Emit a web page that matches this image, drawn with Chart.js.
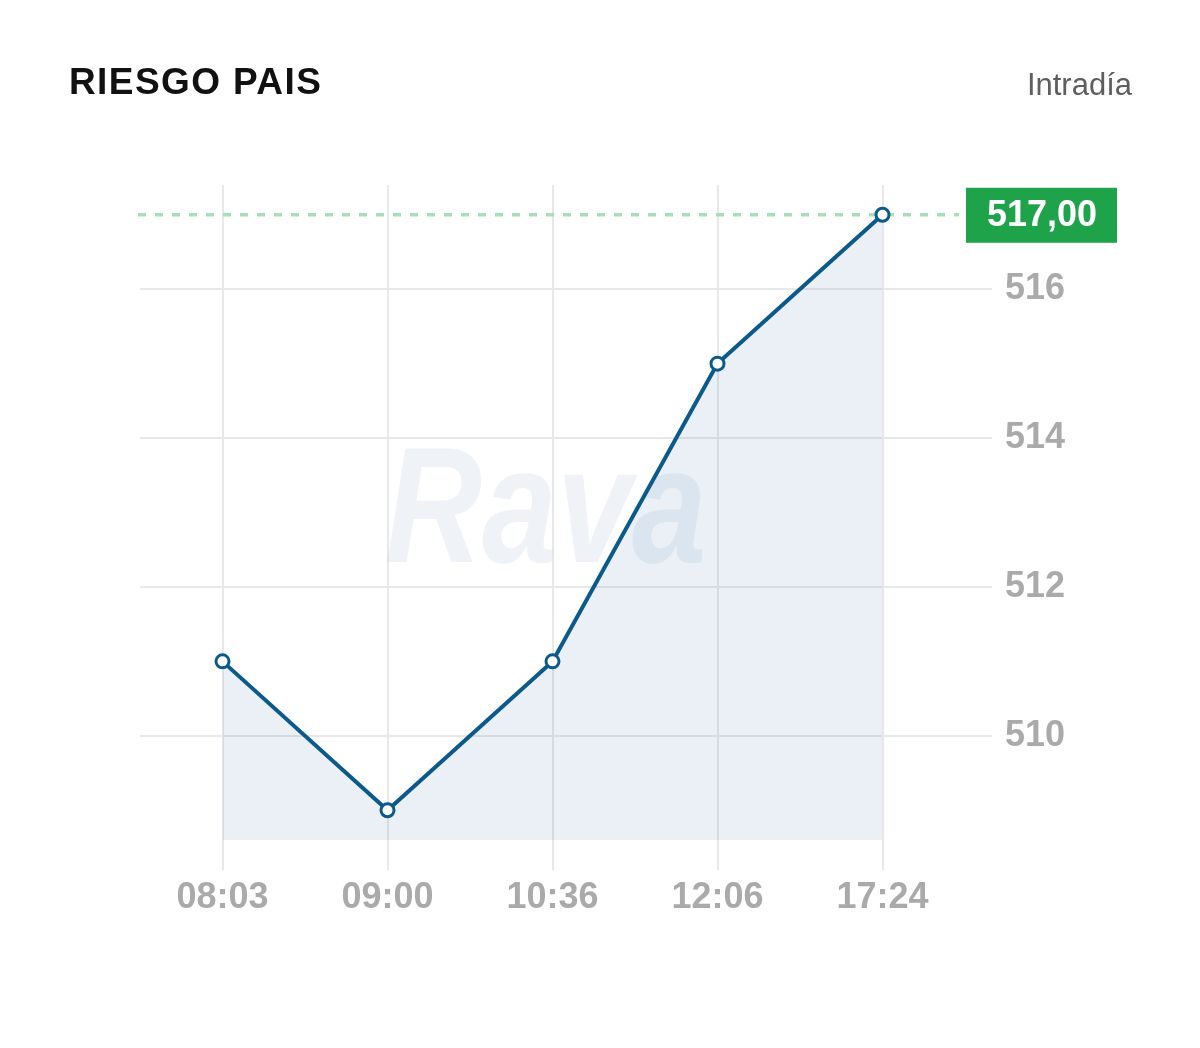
<!DOCTYPE html>
<html>
<head>
<meta charset="utf-8">
<title>Riesgo Pais</title>
<script src="https://cdn.jsdelivr.net/npm/chart.js@4/dist/chart.umd.min.js"></script>
<style>
  html, body { margin: 0; padding: 0; background: #fff; }
  #wrap { position: relative; width: 1200px; height: 1048px; overflow: hidden; }
  #chart { position: absolute; left: 0; top: 0; }
  .title {
    position: absolute; left: 69px; top: 63px; margin: 0;
    font: bold 37px "Liberation Sans", Arial, sans-serif; line-height: 1;
    letter-spacing: 1.4px; color: #111;
  }
  .period {
    position: absolute; right: 68px; top: 69px;
    font: 31px "Liberation Sans", Arial, sans-serif; line-height: 1; color: #5e5e5e;
  }
</style>
</head>
<body>
<div id="wrap">
  <canvas id="chart" width="1200" height="1048"></canvas>
  <h1 class="title">RIESGO PAIS</h1>
  <div class="period">Intradía</div>
</div>
<script>
// intraday values
var times = ['08:03', '09:00', '10:36', '12:06', '17:24'];
var values = [511, 509, 511, 515, 517];
var yTicks = [510, 512, 514, 516];
var yMin = 508.6;
var yMax = 517.4;

var lineColor = '#0b5a8b';
var tickFont = { family: '"Liberation Sans", Arial, sans-serif', size: 36, weight: 'bold' };

// faint "Rava" watermark behind the series
var watermark = {
    id: 'watermark',
    beforeDatasetsDraw: function (chart) {
        var ctx = chart.ctx;
        ctx.save();
        ctx.translate(385, 562);
        ctx.scale(0.81, 1);
        ctx.font = 'italic bold 166px "Liberation Sans", Arial, sans-serif';
        ctx.fillStyle = 'rgba(30, 90, 150, 0.07)';
        ctx.textBaseline = 'alphabetic';
        ctx.fillText('Rava', 0, 0);
        ctx.restore();
    }
};

// dashed line + green box on the last value
var lastValue = {
    id: 'lastValue',
    beforeDatasetsDraw: function (chart) {
        var ctx = chart.ctx;
        var area = chart.chartArea;
        var y = chart.scales.y.getPixelForValue(values[values.length - 1]);
        ctx.save();
        ctx.strokeStyle = '#a9dfb8';
        ctx.lineWidth = 3.5;
        ctx.setLineDash([8, 9]);
        ctx.beginPath();
        ctx.moveTo(area.left - 2, y);
        ctx.lineTo(area.right - 6, y);
        ctx.stroke();
        ctx.restore();
    },
    afterDraw: function (chart) {
        var ctx = chart.ctx;
        var area = chart.chartArea;
        var v = values[values.length - 1];
        var y = chart.scales.y.getPixelForValue(v);
        var x = area.right + 1;
        ctx.save();
        ctx.fillStyle = '#1ea34b';
        ctx.fillRect(x, y - 27, 151, 55);
        ctx.fillStyle = '#fff';
        ctx.font = 'bold 36px "Liberation Sans", Arial, sans-serif';
        ctx.textAlign = 'center';
        ctx.textBaseline = 'middle';
        ctx.fillText(v.toFixed(2).replace('.', ','), x + 76, y + 1);
        ctx.restore();
    }
};

var ctx = document.getElementById('chart').getContext('2d');
var chart = new Chart(ctx, {
    type: 'line',
    data: {
        labels: times,
        datasets: [{
            data: values,
            borderColor: lineColor,
            borderWidth: 4,
            backgroundColor: 'rgba(20, 90, 140, 0.09)',
            fill: 'start',
            tension: 0,
            pointRadius: 6.5,
            pointBorderWidth: 3,
            pointBackgroundColor: '#fff',
            pointBorderColor: lineColor
        }]
    },
    options: {
        responsive: false,
        animation: false,
        devicePixelRatio: 1,
        layout: { padding: { left: 140, top: 185, right: 0, bottom: 0 } },
        plugins: {
            legend: { display: false },
            tooltip: { enabled: false }
        },
        scales: {
            x: {
                offset: true,
                grid: { offset: false, color: '#e8e8e8', lineWidth: 2, tickLength: 30 },
                border: { display: false },
                ticks: { color: '#aaaaaa', font: tickFont, padding: 6, maxRotation: 0 },
                afterFit: function (scale) { scale.height = 208; }
            },
            y: {
                position: 'right',
                min: yMin,
                max: yMax,
                grid: { color: '#e8e8e8', lineWidth: 2, tickLength: 27 },
                border: { display: false },
                ticks: { color: '#aaaaaa', font: tickFont, padding: 13 },
                afterBuildTicks: function (scale) {
                    scale.ticks = yTicks.map(function (v) { return { value: v }; });
                },
                afterFit: function (scale) { scale.width = 235; }
            }
        }
    },
    plugins: [watermark, lastValue]
});
</script>
</body>
</html>
